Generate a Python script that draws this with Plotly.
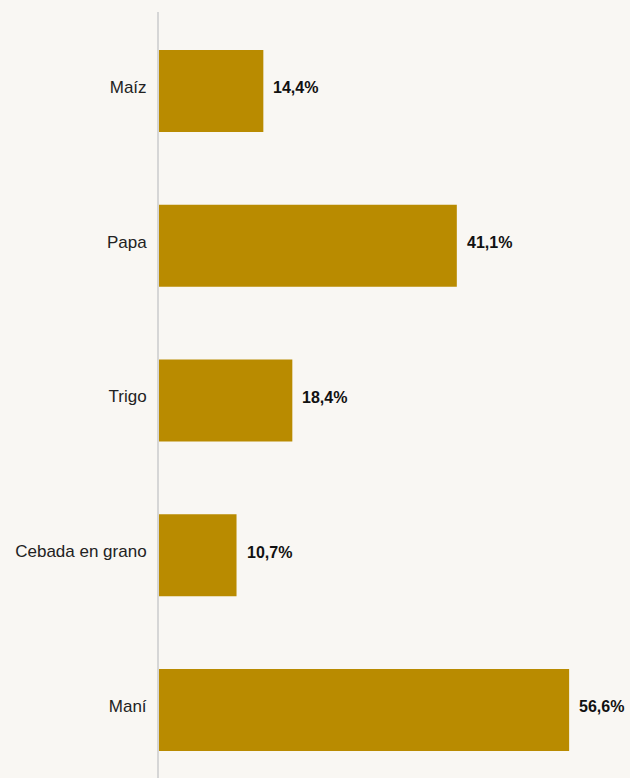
import plotly.graph_objects as go

# data
cultivos = ["Maíz", "Papa", "Trigo", "Cebada en grano", "Maní"]
valores = [14.4, 41.1, 18.4, 10.7, 56.6]
etiquetas = ["14,4%", "41,1%", "18,4%", "10,7%", "56,6%"]

bar_color = "#b98b00"
bg = "#f9f7f3"

fig = go.Figure()
fig.add_trace(go.Bar(
    x=valores, y=cultivos, orientation="h",
    marker=dict(color=bar_color, line=dict(width=0)),
    hoverinfo="skip",
))

# value labels to the right of each bar
for c, v, t in zip(cultivos, valores, etiquetas):
    fig.add_annotation(
        x=v, y=c, text="<b>" + t + "</b>", showarrow=False,
        xanchor="left", xshift=8, yshift=3,
        font=dict(size=16, color="#111"),
    )

fig.update_layout(
    width=630, height=778,
    margin=dict(l=159, r=0, t=12, b=0),
    paper_bgcolor=bg, plot_bgcolor=bg,
    font=dict(family="Liberation Sans, Arial, sans-serif", size=17, color="#222"),
    bargap=0.47,
    showlegend=False,
    xaxis=dict(range=[0, 65], visible=False, fixedrange=True),
    yaxis=dict(
        type="category", categoryorder="array", categoryarray=cultivos,
        range=[4.44, -0.51], showgrid=False, zeroline=False,
        showline=True, linecolor="#d6d6d6", linewidth=2,
        ticks="", ticklabelstandoff=7, ticklabelshift=4, fixedrange=True,
    ),
)

# page without the default body margin, no modebar
fig.write_html(
    "out.html",
    config={"displayModeBar": False},
    post_script="document.body.style.margin='0';document.body.style.background='%s';" % bg,
)
